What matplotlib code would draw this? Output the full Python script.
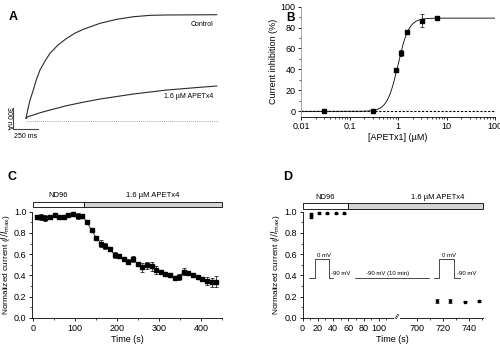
import numpy as np
import matplotlib
matplotlib.use("Agg")
import matplotlib.pyplot as plt
import matplotlib.transforms as mtransforms

plt.rcParams["font.family"] = ["Liberation Sans", "DejaVu Sans"]
plt.rcParams["font.size"] = 6.5
plt.rcParams["axes.linewidth"] = 0.6
plt.rcParams["xtick.major.width"] = 0.6
plt.rcParams["ytick.major.width"] = 0.6
plt.rcParams["xtick.minor.width"] = 0.5
plt.rcParams["ytick.minor.width"] = 0.5
plt.rcParams["xtick.major.size"] = 2.5
plt.rcParams["ytick.major.size"] = 2.5
plt.rcParams["xtick.minor.size"] = 1.5
plt.rcParams["ytick.minor.size"] = 1.5
plt.rcParams["xtick.major.pad"] = 1.5
plt.rcParams["ytick.major.pad"] = 1.5

# ---- panel A: current traces (ms, nA) ----
ctrl_t = [0, 20, 40, 73, 105, 140, 190, 240, 320, 407, 490, 573, 740, 907, 1073, 1240, 1407, 1907]
ctrl_i = [31, 170, 290, 436, 590, 722, 850, 961, 1080, 1175, 1250, 1304, 1390, 1447, 1484, 1504, 1509, 1513]
apet_t = [0, 20, 73, 150, 240, 407, 573, 740, 1073, 1407, 1740, 1907]
apet_i = [31, 55, 79, 115, 150, 212, 262, 307, 379, 436, 475, 493]

# ---- panel B: concentration-response ----
conc = [0.03, 0.3, 0.91, 1.14, 1.51, 3.1, 6.3]
inhib = [0, 0, 39, 55.5, 75.5, 86.5, 89]
inhib_err = [0.5, 0.5, 1.0, 3.0, 1.5, 6.0, 1.0]
fit_max, fit_ic50, fit_n = 89.0, 1.0, 3.9

# ---- panel C: time course ----
c_time = [8, 19, 29, 40, 51, 62, 73, 84, 95, 106, 117, 128, 139, 150, 161, 172, 183, 194, 205, 216,
          227, 238, 249, 260, 271, 282, 293, 304, 315, 326, 337, 348, 359, 370, 381, 392, 403, 414, 425, 436]
c_val = [0.95, 0.95, 0.94, 0.95, 0.97, 0.95, 0.95, 0.97, 0.98, 0.96, 0.96, 0.90, 0.825, 0.755, 0.70, 0.675,
         0.65, 0.59, 0.58, 0.557, 0.53, 0.554, 0.507, 0.475, 0.494, 0.484, 0.452, 0.436, 0.411, 0.404,
         0.379, 0.388, 0.436, 0.42, 0.404, 0.382, 0.363, 0.347, 0.335, 0.34]
c_err = [0.01, 0.025, 0.03, 0.015, 0.005, 0.005, 0.005, 0.005, 0.015, 0.025, 0.005, 0.01, 0.005, 0.01,
         0.03, 0.03, 0.005, 0.03, 0.02, 0.005, 0.02, 0.03, 0.02, 0.04, 0.03, 0.04, 0.04, 0.005, 0.005,
         0.01, 0.02, 0.03, 0.03, 0.005, 0.005, 0.005, 0.005, 0.04, 0.04, 0.05]

# ---- panel D: recovery after 10 min ----
d_time = [10.8, 10.8, 21.7, 32.6, 43.7, 54.6, 715.6, 725.9, 737.5, 747.8]
d_val = [0.95, 0.975, 0.985, 0.985, 0.985, 0.985, 0.16, 0.16, 0.155, 0.16]
d_err = [0.01, 0.01, 0.012, 0.003, 0.003, 0.003, 0.02, 0.02, 0.008, 0.012]
d_ticks = [0, 20, 40, 60, 80, 100, 700, 720, 740]
d_minor = [10, 30, 50, 70, 90, 110, 710, 730, 750]

# voltage protocol sketches in panel D
prot1_x = [8, 17, 17, 35, 35, 40]
prot1_y = [0.38, 0.38, 0.55, 0.55, 0.38, 0.38]
hold_x = [69, 709]
hold_y = [0.38, 0.38]
prot2_x = [713, 717, 717, 729, 729, 733]
prot2_y = [0.38, 0.38, 0.55, 0.55, 0.38, 0.38]

fig = plt.figure(figsize=(5.0, 3.47), dpi=100)

# ================= A =================
axA = fig.add_axes([0.0, 0.5965, 0.44, 0.3746])
axA.set_xlim(-260, 1940)
axA.set_ylim(-279, 1580)
axA.axis("off")
axA.plot(ctrl_t, ctrl_i, color="#2a2a2a", lw=0.8)
axA.plot(apet_t, apet_i, color="#2a2a2a", lw=0.8)
axA.plot([0, 1920], [0, 0], color="#888888", lw=0.6, ls=(0, (1, 1.5)))
# scale bars
axA.plot([-130, -130, 120], [179, -121, -121], color="#444444", lw=0.8)
axA.text(-5, -175, "250 ms", ha="center", va="top", fontsize=5)
axA.text(-180, 30, "300 nA", ha="center", va="center", rotation=270, fontsize=5)
axA.text(1870, 1366, "Control", ha="right", va="center", fontsize=5)
axA.text(1870, 350, "1.6 \u00b5M APETx4", ha="right", va="center", fontsize=5)

# ================= B =================
axB = fig.add_axes([0.602, 0.664, 0.388, 0.317])
cc = np.logspace(-2, 2, 300)
axB.plot(cc, fit_max / (1 + (fit_ic50 / cc) ** fit_n), color="black", lw=0.6)
axB.plot([0.01, 100], [0, 0], color="black", lw=0.8, ls=(0, (2, 1.5)))
axB.errorbar(conc, inhib, yerr=inhib_err, fmt="s", color="black", ms=3, lw=0.5,
             capsize=1.5, capthick=0.5)
axB.set_xscale("log")
axB.set_xlim(0.01, 100)
axB.set_ylim(-5, 100)
axB.set_yticks([0, 20, 40, 60, 80, 100])
axB.set_yticks([10, 30, 50, 70, 90], minor=True)
axB.set_xticks([0.01, 0.1, 1, 10, 100])
axB.set_xticklabels(["0.01", "0.1", "1", "10", "100"])
for s in ["top", "right"]:
    axB.spines[s].set_visible(False)
axB.spines["left"].set_color("#999999")
axB.set_xlabel("[APETx1] (\u00b5M)", labelpad=1.5)
axB.set_ylabel("Current inhibition (%)", labelpad=2)

# ================= C =================
axC = fig.add_axes([0.064, 0.0836, 0.380, 0.3066])
axC.errorbar(c_time, c_val, yerr=c_err, fmt="-s", color="black", ms=2.3, lw=0.5,
             capsize=1.5, capthick=0.5, clip_on=False)
axC.set_xlim(-3, 450)
axC.set_ylim(0, 1.0)
axC.set_xticks([0, 100, 200, 300, 400])
axC.set_xticks([50, 150, 250, 350, 450], minor=True)
axC.set_yticks([0.0, 0.2, 0.4, 0.6, 0.8, 1.0])
axC.set_yticks([0.1, 0.3, 0.5, 0.7, 0.9], minor=True)
axC.yaxis.set_major_formatter(matplotlib.ticker.FormatStrFormatter("%.1f"))
for s in ["top", "right"]:
    axC.spines[s].set_visible(False)
axC.set_xlabel("Time (s)", labelpad=1.5)
axC.set_ylabel("Normalized current ($\\mathit{I/I}_{\\rm max}$)", labelpad=1, fontsize=6)
trC = mtransforms.blended_transform_factory(axC.transData, axC.transAxes)
axC.add_patch(plt.Rectangle((0, 1.045), 120, 0.042, transform=trC, facecolor="white",
                            edgecolor="black", lw=0.6, clip_on=False))
axC.add_patch(plt.Rectangle((120, 1.045), 330, 0.042, transform=trC, facecolor="#d4d4d4",
                            edgecolor="black", lw=0.6, clip_on=False))
axC.text(60, 1.15, "ND96", transform=trC, ha="center", va="center", fontsize=5.5)
axC.text(285, 1.15, "1.6 \u00b5M APETx4", transform=trC, ha="center", va="center", fontsize=5.5)

# ================= D =================
def fwd(t):
    t = np.asarray(t, dtype=float)
    return np.where(t <= 130, t, np.where(t >= 700, 150 + (t - 700) * 1.7, 130 + (t - 130) * 20 / 570))


def inv(u):
    u = np.asarray(u, dtype=float)
    return np.where(u <= 130, u, np.where(u >= 150, 700 + (u - 150) / 1.7, 130 + (u - 130) * 570 / 20))


axD = fig.add_axes([0.605, 0.0836, 0.361, 0.3066])
axD.set_xscale("function", functions=(fwd, inv))
axD.errorbar(d_time, d_val, yerr=d_err, fmt="s", color="black", ms=1.8, lw=0.5,
             capsize=1.5, capthick=0.5, clip_on=False)
axD.plot(prot1_x, prot1_y, color="black", lw=0.5)
axD.plot(hold_x, hold_y, color="black", lw=0.5)
axD.plot(prot2_x, prot2_y, color="black", lw=0.5)
axD.text(19, 0.57, "0 mV", fontsize=4.3)
axD.text(37, 0.40, "-90 mV", fontsize=4.3)
axD.text(112, 0.40, "-90 mV (10 min)", ha="center", fontsize=4.3)
axD.text(719, 0.57, "0 mV", fontsize=4.3)
axD.text(731, 0.40, "-90 mV", fontsize=4.3)
axD.set_xlim(0, 751)
axD.set_ylim(0, 1.0)
axD.set_xticks(d_ticks)
axD.set_xticklabels([str(v) for v in d_ticks])
axD.set_xticks(d_minor, minor=True)
axD.set_yticks([0.0, 0.2, 0.4, 0.6, 0.8, 1.0])
axD.set_yticks([0.1, 0.3, 0.5, 0.7, 0.9], minor=True)
axD.yaxis.set_major_formatter(matplotlib.ticker.FormatStrFormatter("%.1f"))
for s in ["top", "right"]:
    axD.spines[s].set_visible(False)
axD.text(124, 0.0, "//", ha="center", va="center", fontsize=6, style="italic",
         bbox=dict(facecolor="white", edgecolor="none", pad=0.3))
axD.set_xlabel("Time (s)", labelpad=1.5)
axD.set_ylabel("Normalized current ($\\mathit{I/I}_{\\rm max}$)", labelpad=2, fontsize=6)
trD = mtransforms.blended_transform_factory(axD.transData, axD.transAxes)
axD.add_patch(plt.Rectangle((0, 1.026), 60, 0.055, transform=trD, facecolor="white",
                            edgecolor="black", lw=0.6, clip_on=False))
axD.add_patch(plt.Rectangle((60, 1.026), 691, 0.055, transform=trD, facecolor="#d4d4d4",
                            edgecolor="black", lw=0.6, clip_on=False))
axD.text(30, 1.135, "ND96", transform=trD, ha="center", va="center", fontsize=5.5)
axD.text(716, 1.135, "1.6 \u00b5M APETx4", transform=trD, ha="center", va="center", fontsize=5.5)

# panel letters
fig.text(0.018, 0.952, "A", fontsize=9, fontweight="bold", va="center")
fig.text(0.572, 0.948, "B", fontsize=8.5, fontweight="bold", va="center")
fig.text(0.014, 0.49, "C", fontsize=9, fontweight="bold", va="center")
fig.text(0.566, 0.49, "D", fontsize=9, fontweight="bold", va="center")

fig.savefig("out.png", dpi=100)
